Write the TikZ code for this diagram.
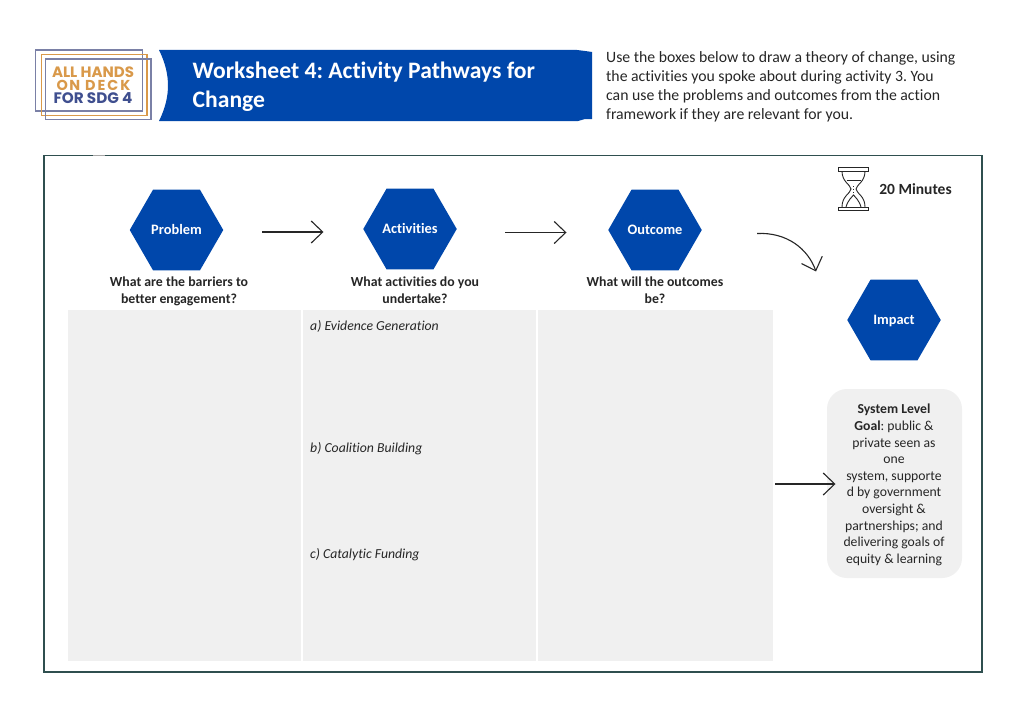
\documentclass[tikz,border=0pt]{standalone}
\usepackage{fontspec}
\setmainfont[Ligatures={NoCommon}]{Carlito}
\newfontfamily\logofont{Poppins}
\usetikzlibrary{shapes.geometric,arrows.meta}
\definecolor{bluefill}{HTML}{0047AB}
\definecolor{framecol}{HTML}{2F4F4F}
\definecolor{cellgrey}{HTML}{F0F0F0}
\definecolor{logoorange}{HTML}{D9994A}
\definecolor{logoblue}{HTML}{3F4F8F}
\definecolor{logoline}{HTML}{7A80A6}
\definecolor{ink}{HTML}{262626}
\tikzset{
  x=1pt,y=-1pt,
  hex/.style={regular polygon,regular polygon sides=6,shape border rotate=0,minimum size=93.5pt,inner sep=0pt,outer sep=0pt,fill=bluefill,text=white,text height=9.5pt,text depth=0pt,font=\fontsize{14.4}{15}\selectfont\bfseries},
  cell/.style={fill=cellgrey,draw=none},
  qlabel/.style={align=center,font=\fontsize{13.8}{16.8}\selectfont\bfseries,text=ink,inner sep=0pt},
  cellnote/.style={anchor=west,inner sep=0pt,font=\fontsize{13.75}{15}\selectfont\itshape,text=ink},
  flow/.style={draw=ink,line width=1.1pt,-{Straight Barb[length=11.5pt,width=22pt,line width=1.1pt]}},
}
\begin{document}
\frenchspacing
\begin{tikzpicture}
\useasboundingbox (0,0) rectangle (1024,709);
\fill[white] (0,0) rectangle (1024,709);
% logo
\draw[logoline,line width=1.5pt] (35.5,50) rectangle (142.5,111);
\draw[logoorange,line width=1.5pt] (41.5,54.5) rectangle (147,115.5);
\draw[logoline,line width=1.5pt] (45.5,59) rectangle (151,119.5);
\node[inner sep=0pt,text=logoorange,font=\logofont\fontsize{15}{15}\selectfont\bfseries] (logoa) at (93,72) {ALL HANDS};
\node[inner sep=0pt,text=logoorange,font=\logofont\fontsize{14.4}{15}\selectfont\bfseries] (logob) at (93.5,85) {O\kern1.5ptN\kern5ptD\kern2ptE\kern2ptC\kern2ptK};
\node[inner sep=0pt,text=logoblue,font=\logofont\fontsize{15.2}{15}\selectfont\bfseries] (logoc) at (93,98.5) {FOR SDG 4};
% banner
\fill[bluefill] (159,50) .. controls (165,62) and (168,74) .. (168,85.5) .. controls (168,97) and (165,109) .. (159,121)
  -- (578,121) -- (585,119) -- (592,119) -- (592,52) -- (585,51) -- (577,50) -- cycle;
\node[anchor=west,inner sep=0pt,align=left,text=white,font=\fontsize{23.6}{29}\selectfont\bfseries] (title) at (192.5,87) {Worksheet 4: Activity Pathways for\\Change};
\node[anchor=north west,inner sep=0pt,align=left,text=ink,font=\fontsize{15.75}{19}\selectfont] (intro) at (606,51) {Use the boxes below to draw a theory of change, using\\the activities you spoke about during activity 3. You\\can use the problems and outcomes from the action\\framework if they are relevant for you.};
% frame
\draw[framecol,line width=1.1pt] (44,155.5) rectangle (982,672);
\draw[black!35,line width=1.1pt] (93,155.5) -- (105,155.5);
% cells
\fill[cell] (68,310) rectangle (300.5,661);
\fill[cell] (302.5,310) rectangle (536,661);
\fill[cell] (538,310) rectangle (773,661);
% hexagons
\node[hex] (problem) at (176.5,230) {Problem};
\node[hex] (activities) at (410,229) {Activities};
\node[hex] (outcome) at (655,230) {Outcome};
\node[hex] (impact) at (894,320) {Impact};
% questions
\node[qlabel] (q1) at (179,291) {What are the barriers to\\better engagement?};
\node[qlabel] (q2) at (415,290) {What activities do you\\undertake?};
\node[qlabel] (q3) at (655,290.5) {What will the outcomes\\be?};
% notes
\node[cellnote] (na) at (310,326.5) {a) Evidence Generation};
\node[cellnote] (nb) at (310,448.5) {b) Coalition Building};
\node[cellnote] (nc) at (310,554.5) {c) Catalytic Funding};
% goal
\node[fill=cellgrey,rounded corners=20pt,minimum width=135pt,minimum height=189pt,inner sep=0pt] (goal) at (894.5,483.5) {};
\node[inner sep=0pt,text=ink,align=center,font=\fontsize{13.7}{16.6}\selectfont] (goaltext) at (894,485) {\textbf{System Level}\\\textbf{Goal}: public \&\\private seen as\\one\\system, supporte\\d by government\\oversight \&\\partnerships; and\\delivering goals of\\equity \& learning};
% connectors
\coordinate (f1a) at (262,232);
\coordinate (f1b) at (323.5,232);
\coordinate (f2a) at (505,232.5);
\coordinate (f2b) at (566.5,232.5);
\coordinate (f3a) at (757,233.5);
\coordinate (f3b) at (816,271.5);
\coordinate (f4a) at (775,484);
\coordinate (f4b) at (835.5,484);
\draw[flow] (f1a) -- (f1b);
\draw[flow] (f2a) -- (f2b);
\draw[flow] (f3a) .. controls (787,232) and (808,249) .. (f3b);
\draw[flow] (f4a) -- (f4b);
% hourglass
\begin{scope}[draw=ink,line width=0.9pt]
\draw (842,171) .. controls (842,182) and (850,184) .. (851,189) .. controls (850,194) and (842,196) .. (842,207);
\draw (865,171) .. controls (865,182) and (857,184) .. (856,189) .. controls (857,194) and (865,196) .. (865,207);
\draw (846.5,180) -- (860.5,180);
\draw (846,207) .. controls (848,200) and (852,197) .. (853.5,195) .. controls (855,197) and (859,200) .. (861,207);
\draw[dotted] (853.5,186) -- (853.5,195);
\draw[fill=white] (838.5,167.5) rectangle (868.5,171);
\draw[fill=white] (838.5,207) rectangle (868.5,210.5);
\end{scope}
\node[inner sep=0pt,text=ink,font=\fontsize{15.5}{16}\selectfont\bfseries] (time) at (915.5,189) {20 Minutes};
\end{tikzpicture}
\end{document}
